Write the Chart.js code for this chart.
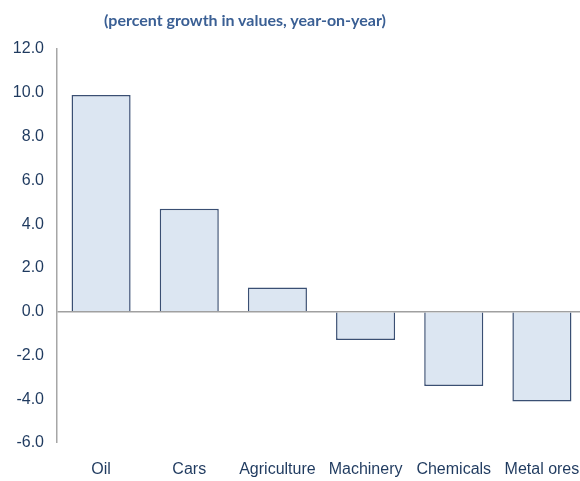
<!DOCTYPE html>
<html>
<head>
<meta charset="utf-8">
<script src="https://cdn.jsdelivr.net/npm/chart.js@4"></script>
<style>
  html, body { margin: 0; padding: 0; background: #fff; overflow: hidden; }
  #wrap { position: relative; width: 580px; height: 481px; overflow: hidden; }
  #title { position: absolute; left: 0; top: 10px; width: 490px; text-align: center;
           font: bold 16px Lato, "Open Sans", sans-serif; color: #3a5f94; z-index: 2; }
  #c { position: absolute; left: 0; top: 0; }
</style>
</head>
<body>
<div id="wrap">
<div id="title">(percent growth in values, year-on-year)</div>
<canvas id="c" width="586" height="481" style="width:586px;height:481px"></canvas>
</div>
<script>
const categories = ["Oil", "Cars", "Agriculture", "Machinery", "Chemicals", "Metal ores"];
const growth = [9.9, 4.7, 1.1, -1.3, -3.4, -4.1];
const yMin = -6, yMax = 12, yStep = 2;

new Chart(document.getElementById('c'), {
  type: 'bar',
  data: {
    labels: categories,
    datasets: [{
      data: growth,
      backgroundColor: '#dce6f2',
      borderColor: '#3a4f73',
      borderWidth: 1.5,
      borderSkipped: 'start',
      barPercentage: 0.67,
      categoryPercentage: 1.0
    }]
  },
  options: {
    responsive: false,
    animation: false,
    devicePixelRatio: 1,
    layout: { padding: { left: 0, top: 49, right: 0, bottom: 0 } },
    plugins: { legend: { display: false }, tooltip: { enabled: false }, title: { display: false } },
    scales: {
      x: {
        grid: { display: false, drawTicks: false },
        border: { display: false },
        ticks: { color: '#1f3a5f', font: { family: '"Liberation Sans", Arial, sans-serif', size: 16 }, padding: 17, maxRotation: 0, autoSkip: false },
        afterFit: s => { s.height = 38; s.paddingLeft = 0; s.paddingRight = 0; }
      },
      y: {
        min: yMin, max: yMax,
        z: 1,
        grid: {
          drawTicks: false,
          color: ctx => (ctx.tick && ctx.tick.value === 0) ? '#a0a0a0' : 'rgba(0,0,0,0)',
          lineWidth: ctx => (ctx.tick && ctx.tick.value === 0) ? 1.5 : 0
        },
        border: { display: true, color: '#a6a6a6', width: 1.5 },
        ticks: {
          stepSize: yStep,
          color: '#1f3a5f',
          padding: 13,
          font: { family: '"Liberation Sans", Arial, sans-serif', size: 16 },
          callback: v => Number(v).toFixed(1)
        },
        afterFit: s => { s.width = 57; s.paddingTop = 0; s.paddingBottom = 0; }
      }
    }
  }
});
</script>
</body>
</html>
